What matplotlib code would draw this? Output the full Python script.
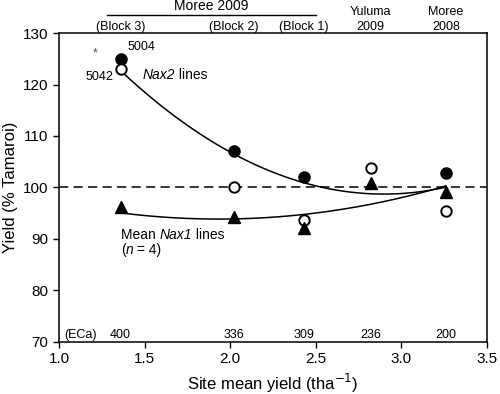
import matplotlib.pyplot as plt
import matplotlib.transforms as mtransforms
import numpy as np

plt.rcParams['font.family'] = ['Liberation Sans', 'DejaVu Sans']

# site mean yields (x) and relative yields (% Tamaroi)
site_x = [1.36, 2.02, 2.43, 2.82, 3.26]
nax2_5004 = [125.0, 107.0, 102.1, None, 102.7]
nax2_5042 = [123.0, 100.1, 93.6, 103.8, 95.4]
nax1_mean = [96.2, 94.2, 92.1, 100.8, 99.1]
eca = ["400", "336", "309", "236", "200"]
site_names = ["(Block 3)", "(Block 2)", "(Block 1)", "Yuluma\n2009", "Moree\n2008"]

# points
nax2_fit_x = [1.36, 2.02, 2.51, 3.03, 3.26]
nax2_fit_y = [122.6, 106.8, 100.0, 98.7, 100.2]
nax1_fit_x = [1.36, 2.02, 2.43, 3.26]
nax1_fit_y = [95.0, 94.0, 94.6, 100.3]

fig = plt.figure(figsize=(5, 3.94), dpi=100)
ax = fig.add_axes([0.118, 0.133, 0.856, 0.783])

# fitted quadratic curves
xx = np.linspace(1.36, 3.26, 200)
c2 = np.polyfit(nax2_fit_x, nax2_fit_y, 2)
c1 = np.polyfit(nax1_fit_x, nax1_fit_y, 2)
ax.plot(xx, np.polyval(c2, xx), color="k", lw=1.1)
ax.plot(xx, np.polyval(c1, xx), color="k", lw=1.1)

ax.axhline(100, color="k", ls=(0, (6, 3.5)), lw=1.1)

fx = [x for x, y in zip(site_x, nax2_5004) if y is not None]
fy = [y for y in nax2_5004 if y is not None]
ax.plot(fx, fy, "o", color="k", ms=8, zorder=3)
ax.plot(site_x, nax2_5042, "o", mfc="white", mec="k", mew=1.4, ms=7.5, zorder=3)
ax.plot(site_x, nax1_mean, "^", color="k", ms=8, zorder=3)

ax.set_xlim(1.0, 3.5)
ax.set_ylim(70, 130)
ax.set_xticks([1.0, 1.5, 2.0, 2.5, 3.0, 3.5])
ax.set_yticks(range(70, 131, 10))
ax.tick_params(direction="out", labelsize=11, length=4, width=1)
for s in ax.spines.values():
    s.set_linewidth(1.1)
ax.set_xlabel("Site mean yield (tha$^{-1}$)", fontsize=12)
ax.set_ylabel("Yield (% Tamaroi)", fontsize=12)


def mixed(x, y, parts, size=10):
    # parts: list of (text, italic) written one after another
    prev = None
    for s, it in parts:
        style = "italic" if it else "normal"
        if prev is None:
            prev = ax.text(x, y, s, fontsize=size, style=style, ha="left", va="baseline")
        else:
            prev = ax.annotate(s, xy=(1, 0), xycoords=prev, fontsize=size, style=style,
                               ha="left", va="bottom")
    return prev


# annotations
ax.text(1.21, 126.0, "*", fontsize=9, ha="center", va="center", color="0.3")
ax.text(1.40, 127.2, "5004", fontsize=9, ha="left", va="center")
ax.text(1.32, 121.5, "5042", fontsize=9, ha="right", va="center")
mixed(1.49, 121.0, [("Nax2", True), (" lines", False)])
mixed(1.36, 90.0, [("Mean ", False), ("Nax1", True), (" lines", False)])
mixed(1.36, 87.0, [("(", False), ("n", True), (" = 4)", False)])

ax.text(1.03, 71.2, "(ECa)", fontsize=9, ha="left", va="center")
for x, e in zip(site_x, eca):
    ax.text(x, 71.2, e, fontsize=9, ha="center", va="center")

trans = mtransforms.blended_transform_factory(ax.transData, fig.transFigure)
for x, name in zip(site_x, site_names):
    ax.text(x, 0.924, name, fontsize=9, ha="center", va="baseline",
            transform=trans, linespacing=1.35)
ax.plot([1.28, 2.50], [0.962, 0.962], color="k", lw=1, transform=trans, clip_on=False)
ax.text(1.89, 0.974, "Moree 2009", fontsize=10, ha="center", va="baseline", transform=trans)

fig.savefig("out.png", dpi=100)
